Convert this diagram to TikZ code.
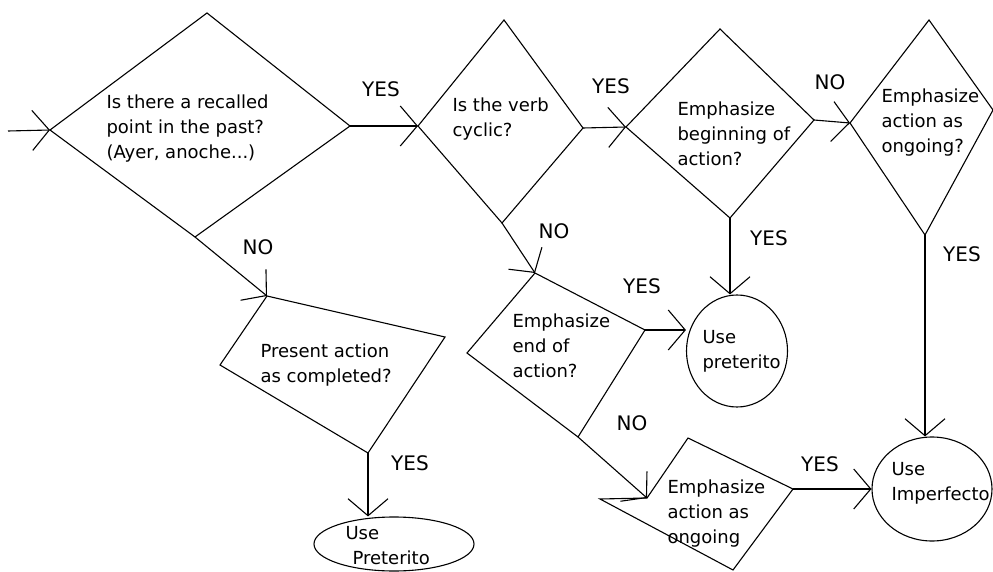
\documentclass[tikz,border=0pt]{standalone}
\usepackage{fontspec}
\setmainfont{DejaVu Sans}
\usepackage{tikz}
\usetikzlibrary{arrows.meta}
\usetikzlibrary{shapes.geometric}

\begin{document}
\begin{tikzpicture}[x=1pt,y=-1pt,line width=1.1pt,
    >={Straight Barb[length=17pt,width=40pt]},
    txt/.style={anchor=north west,inner sep=0pt,align=left,font=\fontsize{18}{25}\selectfont},
    lbl/.style={inner sep=0pt,font=\fontsize{20}{24}\selectfont},
    ans/.style={draw,ellipse,inner sep=0pt}]
          \useasboundingbox (0,0) rectangle (993,572);
          \coordinate (start) at (8,131);
          \coordinate (d1t) at (207,13);
          \coordinate (d1l) at (50,130);
          \coordinate (d1r) at (350,126);
          \coordinate (d1b) at (195,237);
          \coordinate (d2t) at (504,20);
          \coordinate (d2l) at (418,126);
          \coordinate (d2r) at (583,128);
          \coordinate (d2b) at (502,223);
          \coordinate (d3t) at (720,29);
          \coordinate (d3l) at (626,127);
          \coordinate (d3r) at (814,120);
          \coordinate (d3b) at (730,218);
          \coordinate (d4t) at (929,20);
          \coordinate (d4l) at (850,123);
          \coordinate (d4r) at (993,110);
          \coordinate (d4b) at (925,235);
          \coordinate (d5t) at (267,296);
          \coordinate (d5r) at (445,337);
          \coordinate (d5b) at (368,453);
          \coordinate (d5l) at (220,365);
          \coordinate (d6t) at (535,273);
          \coordinate (d6r) at (645,330);
          \coordinate (d6b) at (578,437);
          \coordinate (d6l) at (467,353);
          \coordinate (d7l) at (600,499);
          \coordinate (d7n) at (647,498);
          \coordinate (d7t) at (688,438);
          \coordinate (d7r) at (793,489);
          \coordinate (d7b) at (733,570);
          \draw (d1t) -- (d1r) -- (d1b) -- (d1l) -- cycle;
          \draw (d2t) -- (d2r) -- (d2b) -- (d2l) -- cycle;
          \draw (d3t) -- (d3r) -- (d3b) -- (d3l) -- cycle;
          \draw (d4t) -- (d4r) -- (d4b) -- (d4l) -- cycle;
          \draw (d5t) -- (d5r) -- (d5b) -- (d5l) -- cycle;
          \draw (d6t) -- (d6r) -- (d6b) -- (d6l) -- cycle;
          \draw (d7l) -- (d7n) -- (d7t) -- (d7r) -- (d7b) -- cycle;
          \node[ans,minimum width=160pt,minimum height=54pt] (p1) at (394,544) {};
          \node[ans,minimum width=101pt,minimum height=112pt] (p2) at (737,351) {};
          \node[ans,minimum width=120pt,minimum height=104pt] (p3) at (932,489) {};
          \node[txt] (q1) at (106,94) {Is there a recalled\\point in the past?\\(Ayer, anoche...)};
          \node[txt] (q2) at (452,97) {Is the verb\\cyclic?};
          \node[txt] (q3) at (677,101) {Emphasize\\beginning of\\action?};
          \node[txt] (q4) at (881,88) {Emphasize\\action as\\ongoing?};
          \node[txt] (q5) at (260,343) {Present action\\as completed?};
          \node[txt] (q6) at (512,313) {Emphasize\\end of\\action?};
          \node[txt] (q7) at (667,479) {Emphasize\\action as\\ongoing};
          \node[txt] (t1) at (345,526) {Use\\\hspace*{7pt}Preterito};
          \node[txt] (t2) at (702,330) {Use\\preterito};
          \node[txt] (t3) at (891,462) {Use\\Imperfecto};
            \draw[->] (start) -- (d1l);
            \draw[->] (d1r) -- (d2l);
            \draw[->] (d1b) -- (d5t);
            \draw[->] (d2r) -- (d3l);
            \draw[->] (d2b) -- (d6t);
            \draw[->] (d3r) -- (d4l);
            \draw[->] (d3b) -- (d3b |- p2.north);
            \draw[->] (d4b) -- (d4b |- p3.north);
            \draw[->] (d5b) -- (d5b |- p1.north);
            \draw[->] (d6r) -- (d6r -| p2.west);
            \draw[->] (d6b) -- (d7n);
            \draw[->] (d7r) -- (p3.west);
          \node[lbl] (y1) at (381,89) {YES};
          \node[lbl] (n1) at (258,247) {NO};
          \node[lbl] (y2) at (611,86) {YES};
          \node[lbl] (n2) at (554,231) {NO};
          \node[lbl] (n3) at (830,82) {NO};
          \node[lbl] (y3) at (769,238) {YES};
          \node[lbl] (y4) at (962,254) {YES};
          \node[lbl] (y5) at (642,286) {YES};
          \node[lbl] (n4) at (632,423) {NO};
          \node[lbl] (y6) at (820,464) {YES};
          \node[lbl] (y7) at (410,463) {YES};
        \end{tikzpicture}
\end{document}
